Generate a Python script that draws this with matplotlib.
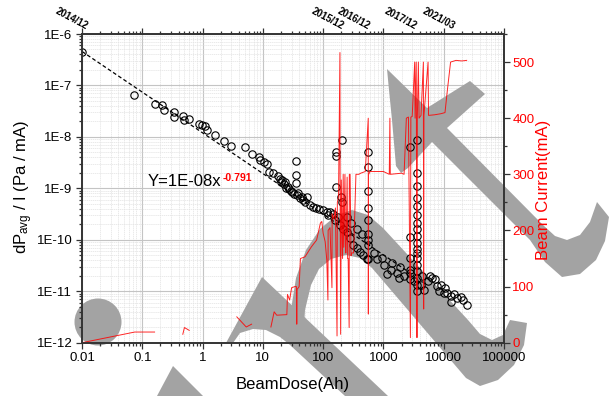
import numpy as np
import matplotlib
matplotlib.use("Agg")
import matplotlib.pyplot as plt
from matplotlib import ticker
from matplotlib.patches import Polygon, Circle
from matplotlib.transforms import Affine2D

plt.rcParams['font.family'] = ['Liberation Sans', 'DejaVu Sans']
plt.rcParams['mathtext.default'] = 'regular'

# dP/I vs beam dose (open circles)
dose = [0.01, 0.073, 0.16, 0.21, 0.23, 0.34, 0.34, 0.48, 0.49, 0.60, 0.87, 0.98, 1.1, 1.2, 1.6,
        2.3, 3.0, 5.1, 6.5, 8.7, 8.9, 10.4, 11.8, 12.8, 14.8, 18, 19, 20, 21, 22, 23, 24, 26, 27,
        29, 31, 33, 35, 35, 36, 37, 39, 41, 44, 47, 50, 54, 60, 69, 75, 85, 100, 115, 121, 130,
        147, 158, 163, 163, 166, 179, 191, 200, 204, 204, 215, 245, 245, 277, 295, 316, 360, 360,
        410, 435, 460, 525,
        560, 560, 560, 560, 560, 560, 560, 560, 560,
        690, 780, 950, 1020, 1150, 1320, 1390, 1700, 1800, 1900, 2200,
        2750, 2750, 2750, 2750, 2750, 2800, 3200,
        3630, 3630, 3630, 3630, 3630, 3630, 3630, 3630, 3630, 3630, 3630, 3630, 3630, 3630,
        3630, 3630, 3630, 3630,
        4200, 4400, 4700, 5400, 6000, 6400, 7300, 7800, 8300, 8900, 10000, 10700, 11500, 13000,
        13000, 14800, 16600, 19000, 21000, 24500]
dp_per_i = [4.5e-7, 6.5e-8, 4.4e-8, 4.1e-8, 3.4e-8, 3.0e-8, 2.45e-8, 2.5e-8, 2.1e-8, 2.2e-8,
            1.8e-8, 1.7e-8, 1.6e-8, 1.35e-8, 1.1e-8,
            8.2e-9, 6.8e-9, 6.4e-9, 4.7e-9, 4.0e-9, 3.55e-9, 3.3e-9, 2.95e-9, 2.1e-9, 2.0e-9,
            1.73e-9, 1.55e-9, 1.3e-9, 1.44e-9, 1.2e-9, 1.34e-9, 1.0e-9, 1.07e-9, 9.5e-10,
            8.9e-10, 8.4e-10, 7.6e-10, 3.4e-9, 1.8e-9, 1.26e-9, 7.3e-10, 8.1e-10, 6.4e-10,
            6.8e-10, 6.0e-10, 5.5e-10, 6.8e-10, 4.8e-10, 4.3e-10, 4.2e-10, 4.0e-10, 3.8e-10,
            3.5e-10, 3.0e-10, 3.4e-10,
            3.2e-10, 2.4e-10, 5.2e-9, 4.3e-9, 1.07e-9, 2.8e-10, 1.9e-10, 6.8e-10, 8.7e-9, 5.5e-10,
            1.65e-10, 1.42e-10, 2.8e-10, 1.07e-10, 2.1e-10, 7.9e-11, 6.8e-11, 1.6e-10,
            5.9e-11, 1.3e-10, 5.0e-11, 4.2e-11,
            5.0e-9, 2.6e-9, 8.9e-10, 4.2e-10, 2.4e-10, 1.3e-10, 1.0e-10, 8.1e-11, 4.2e-11,
            5.6e-11, 4.2e-11, 4.5e-11, 3.3e-11, 2.2e-11, 2.6e-11, 3.6e-11, 2.3e-11, 1.8e-11,
            2.9e-11, 1.96e-11,
            6.3e-9, 1.15e-10, 4.5e-11, 2.6e-11, 1.7e-11, 2.3e-11, 1.6e-11,
            8.7e-9, 1.95e-9, 1.12e-9, 6.6e-10, 4.5e-10, 3.1e-10, 2.1e-10, 1.6e-10, 1.2e-10,
            8.7e-11, 6.5e-11, 4.5e-11, 3.3e-11, 2.5e-11, 1.8e-11, 1.35e-11, 1.0e-11, 5.5e-11,
            1.35e-11, 1.95e-11, 1.07e-11, 1.55e-11, 1.95e-11, 1.8e-11, 1.7e-11, 1.26e-11,
            1.0e-11, 1.35e-11, 9.3e-12, 1.15e-11, 9.3e-12, 8.0e-12, 6.2e-12, 8.7e-12, 7.4e-12,
            7.9e-12, 6.9e-12, 5.5e-12]

# power-law fit Y = A * x^B
fit_coef = 1.2e-8
fit_exp = -0.791
fit_x = [0.01, 3000]

# beam current (right axis), NaN separates the logged segments
cur_dose = [0.01, 0.075, 0.16, np.nan,
            0.47, 0.50, 0.60, np.nan,
            3.7, 5.3, 6.5, np.nan,
            13.6, 15.4, 17, 25, 25.6, 27.8, 30, 34, 36, 36.5, 37, 40, 42, 50, 64, 78, 90, 95,
            100, 108, 115, 120, 121, 130, 140, 141, 150, 160, 170, 172, 180, 190, 191, 195,
            200, 210, 215, 220, 230, 235, 240, 250, 255, 260, 270, 272, 280, 290, 300, 320,
            350, 390, 420, 500, 560, 562, 565, 570, 600, 700, 1000, 1250, 1280, 1300, 2000,
            2200, 2400, 2600, 2800, 2850, 3000, 3300, 3350, 3500, 3600, 3650, 3800, 3900, 4200,
            4600, 4650, 4700, 5500, 5600, 7000, 9000, 10500, 11500, 13000, 16000, 20000, 24000]
beam_current = [0, 19, 19, np.nan,
                15, 27, 22, np.nan,
                46, 28, 33, np.nan,
                28, 55, 49, 50, 86, 76, 98, 100, 100, 33, 95, 100, 150, 153, 171, 183, 213, 216,
                195, 180, 147, 76, 200, 205, 98, 230, 220, 240, 12, 250, 260, 517, 300, 15,
                290, 150, 300, 170, 300, 160, 160, 295, 150, 150, 27, 300, 300, 155, 160, 160,
                300, 300, 302, 305, 400, 51, 300, 300, 305, 305, 305, 300, 400, 300, 302,
                300, 400, 402, 9, 402, 403, 500, 400, 500, 9, 400, 500, 400, 405,
                500, 60, 405, 500, 405, 406, 408, 410, 450, 500, 503, 502, 503]

# date markers along the top edge
date_dose = [0.011, 200, 540, 3200, 13500]
date_labels = ['2014/12', '2015/12', '2016/12', '2017/12', '2021/03']

W, H = 609, 396
rect = [82 / W, 1 - 342.7 / H, (504 - 82) / W, (342.7 - 34) / H]
fig = plt.figure(figsize=(W / 100, H / 100), dpi=100)


def setup_log(a):
    a.set_xscale('log')
    a.set_yscale('log')
    a.set_xlim(0.01, 100000)
    a.set_ylim(1e-12, 1e-6)
    a.xaxis.set_major_locator(ticker.LogLocator(base=10, numticks=20))
    a.xaxis.set_minor_locator(ticker.LogLocator(base=10, subs=np.arange(2, 10), numticks=20))
    a.yaxis.set_major_locator(ticker.LogLocator(base=10, numticks=20))
    a.yaxis.set_minor_locator(ticker.LogLocator(base=10, subs=np.arange(2, 10), numticks=20))


# background axes: only the grid, so the grey marks can sit above it
axg = fig.add_axes(rect, zorder=0)
setup_log(axg)
axg.grid(which='major', color='#c4c4c4', lw=0.8)
axg.grid(which='minor', color='#e2e2e2', lw=0.5, ls=(0, (2, 1)))
axg.tick_params(which='both', length=0, labelbottom=False, labelleft=False)
for s in axg.spines.values():
    s.set_visible(False)

# grey watermark shapes (pixel coords, origin top-left)
pix = Affine2D().scale(1 / W, -1 / H).translate(0, 1) + fig.transFigure
grey = '#a3a3a3'
shapes = [
    [(387, 69), (427, 108), (470, 81), (485, 94), (447, 128), (543, 225), (555, 236),
     (567, 240), (580, 235), (590, 222), (597, 202), (609, 217), (605, 241), (596, 260),
     (580, 274), (562, 277), (545, 262), (530, 240), (480, 190), (432, 142), (408, 168),
     (401, 173), (396, 166), (392, 120), (389, 90)],
    [(290, 345), (291, 310), (296, 278), (306, 250), (320, 229), (337, 215), (352, 210),
     (368, 215), (383, 228), (468, 320), (480, 334), (492, 340), (503, 335), (510, 320),
     (527, 323), (524, 345), (514, 365), (498, 380), (480, 386), (466, 378), (372, 268),
     (360, 258), (346, 255), (331, 259), (319, 269), (311, 285), (305, 310), (303, 345)],
    [(262, 277), (388, 396), (345, 396), (290, 345), (280, 337), (266, 330), (253, 329),
     (240, 333), (233, 343), (226, 343)],
    [(173, 366), (203, 396), (157, 396)],
]
for pts in shapes:
    fig.add_artist(Polygon(pts, closed=True, transform=pix, color=grey, lw=0, zorder=0.5))
fig.add_artist(Circle((98, 322), 23.5, transform=pix, color=grey, lw=0, zorder=0.5))

ax = fig.add_axes(rect, zorder=1)
ax.patch.set_visible(False)
setup_log(ax)
ax.xaxis.set_major_formatter(ticker.FuncFormatter(lambda v, p: '%g' % v))
ax.yaxis.set_major_formatter(ticker.FuncFormatter(lambda v, p: '1E%d' % round(np.log10(v))))
ax.xaxis.set_minor_formatter(ticker.NullFormatter())
ax.yaxis.set_minor_formatter(ticker.NullFormatter())

for s in ax.spines.values():
    s.set_linewidth(1.2)
    s.set_color('#333333')
ax.tick_params(which='both', direction='out', top=True, labeltop=False, colors='#333333',
               labelcolor='black', labelsize=9.5, width=0.9)
ax.tick_params(which='major', length=4, pad=3)
ax.tick_params(which='minor', length=2.2)

ax.plot(dose, dp_per_i, ls='none', marker='o', ms=5.3, mfc='none', mec='black', mew=0.8)
fx = np.array(fit_x)
ax.plot(fx, fit_coef * fx ** fit_exp, color='black', lw=0.9, ls=(0, (3, 2)))

ax.text(0.156, 0.523, 'Y=1E-08x', transform=ax.transAxes, fontsize=12, ha='left',
        va='center')
ax.text(0.333, 0.532, '%.3f' % fit_exp, transform=ax.transAxes, fontsize=7.5,
        fontweight='bold', color='red', ha='left', va='center')

for d, lab in zip(date_dose, date_labels):
    ax.text(d, 1.008, lab, transform=ax.get_xaxis_transform(), fontsize=7, fontweight='bold',
            rotation=-28, rotation_mode='anchor', ha='right', va='bottom')

ax.set_xlabel('BeamDose(Ah)', fontsize=12)
ax.xaxis.set_label_coords(0.5, -0.112)
ax.set_ylabel('dP$_{avg}$ / I (Pa / mA)', fontsize=12, va='center')
ax.yaxis.set_label_coords(-0.137, 0.505)

ax2 = ax.twinx()
ax2.set_zorder(2)
ax2.patch.set_visible(False)
ax2.set_ylim(0, 550)
ax2.yaxis.set_major_locator(ticker.MultipleLocator(100))
ax2.yaxis.set_minor_locator(ticker.MultipleLocator(50))
ax2.plot(cur_dose, beam_current, color='red', lw=0.7, alpha=0.85)
ax2.tick_params(which='both', direction='out', colors='#333333', labelcolor='red',
                labelsize=9.5, width=0.9)
ax2.tick_params(which='major', length=4, pad=2)
ax2.tick_params(which='minor', length=2.2)
for s in ax2.spines.values():
    s.set_linewidth(1.2)
    s.set_color('#333333')
ax2.set_ylabel('Beam Current(mA)', fontsize=12, color='red', va='center')
ax2.yaxis.set_label_coords(1.093, 0.495)

fig.savefig('out.png', dpi=100)
